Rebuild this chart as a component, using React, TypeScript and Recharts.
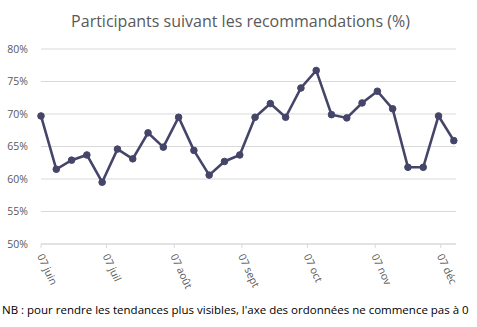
import React from "react";
import { LineChart, Line, XAxis, YAxis, CartesianGrid } from "recharts";

const dayOffsets = [0, 7, 14, 21, 28, 35, 42, 49, 56, 63, 70, 77, 84, 91, 98, 105, 112, 119, 126, 133, 140, 147, 154, 161, 168, 175, 182, 189];
const values = [69.7, 61.5, 62.9, 63.7, 59.5, 64.6, 63.1, 67.1, 64.9, 69.5, 64.4, 60.6, 62.7, 63.7, 69.5, 71.6, 69.5, 74.0, 76.7, 69.9, 69.4, 71.7, 73.5, 70.8, 61.8, 61.8, 69.7, 65.9];
const xTicks = [0, 30, 61, 92, 122, 153, 183];
const xTickLabels = ["07 juin", "07 juil", "07 août", "07 sept", "07 oct", "07 nov", "07 déc"];
const yTicks = [50, 55, 60, 65, 70, 75, 80];

const data = dayOffsets.map((d, i) => ({ day: d, value: values[i] }));

const FONT = "'Open Sans', 'Noto Sans', sans-serif";

const XTick = (props: any) => {
  const { x, y, payload } = props;
  const idx = xTicks.indexOf(payload.value);
  const label = idx >= 0 ? xTickLabels[idx] : "";
  const ax = x - 4;
  const ay = y + 6;
  return (
    <text
      x={ax}
      y={ay}
      transform={`rotate(65, ${ax}, ${ay})`}
      textAnchor="start"
      fontSize={10.5}
      fill="#595959"
      fontFamily={FONT}
    >
      {label}
    </text>
  );
};

export default function App() {
  return (
    <div style={{ position: "absolute", left: 0, top: 0, width: 477, height: 327, background: "#fff", fontFamily: FONT }}>
      <div
        style={{
          position: "absolute",
          left: 0,
          top: 10,
          width: 477,
          textAlign: "center",
          fontSize: 16,
          color: "#595959",
          lineHeight: "22px",
          paddingLeft: 2,
        }}
      >
        Participants suivant les recommandations (%)
      </div>
      <LineChart width={477} height={327} data={data} margin={{ top: 49, right: 21, bottom: 0, left: 0 }}>
        <CartesianGrid vertical={false} stroke="#d9d9d9" strokeWidth={1} />
        <XAxis
          dataKey="day"
          type="number"
          domain={[0, 190]}
          ticks={xTicks}
          interval={0}
          height={83}
          stroke="#d9d9d9"
          tickSize={4}
          tick={<XTick />}
        />
        <YAxis
          type="number"
          domain={[50, 80]}
          ticks={yTicks}
          width={41}
          axisLine={false}
          tickLine={false}
          tickSize={0}
          tickMargin={13}
          tickFormatter={(v: number) => `${v}%`}
          tick={{ fontSize: 10.5, fill: "#595959", fontFamily: FONT }}
        />
        <Line
          type="linear"
          dataKey="value"
          stroke="#45456a"
          strokeWidth={2.6}
          dot={{ r: 3.3, fill: "#45456a", stroke: "#45456a", strokeWidth: 1 }}
          isAnimationActive={false}
        />
      </LineChart>
      <div
        style={{
          position: "absolute",
          left: 2,
          top: 302,
          fontSize: 11.5,
          color: "#000",
          whiteSpace: "nowrap",
          lineHeight: "16px",
        }}
      >
        NB : pour rendre les tendances plus visibles, l'axe des ordonnées ne commence pas à 0
      </div>
    </div>
  );
}
